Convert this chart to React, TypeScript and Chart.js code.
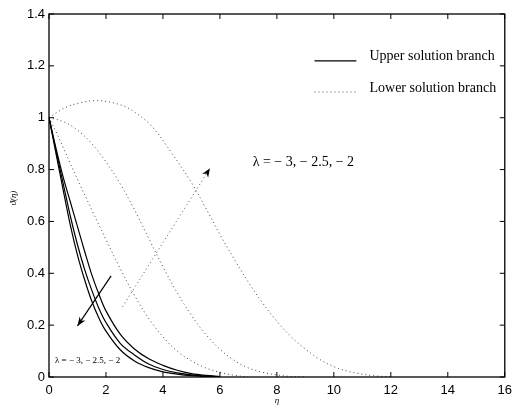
import React, { useEffect, useRef } from 'react';
import { Chart, registerables } from 'chart.js';
Chart.register(...registerables);

// Upper solution branch (solid), lambda = -3, -2.5, -2
const etaUpper = [0, 0.25, 0.5, 0.75, 1, 1.25, 1.5, 1.75, 2, 2.5, 3, 3.5, 4, 4.5, 5, 5.5, 6];
const upperL3 = [1, 0.86, 0.72, 0.585, 0.47, 0.375, 0.293, 0.228, 0.177, 0.105, 0.062, 0.036, 0.02, 0.011, 0.005, 0.002, 0];
const upperL25 = [1, 0.87, 0.745, 0.62, 0.51, 0.415, 0.335, 0.265, 0.21, 0.13, 0.085, 0.05, 0.029, 0.016, 0.008, 0.004, 0.001];
const upperL2 = [1, 0.88, 0.77, 0.675, 0.58, 0.485, 0.395, 0.32, 0.255, 0.165, 0.108, 0.07, 0.045, 0.026, 0.013, 0.006, 0.002];

// Lower solution branch (dotted)
const etaLowerA = [0, 0.5, 1, 1.7, 2.5, 3, 3.6, 4.3, 5, 5.5, 6, 6.5, 7, 7.5, 8, 8.5, 9, 9.5, 10, 10.5, 11, 11.5, 12];
const lowerA = [1, 1.035, 1.055, 1.066, 1.05, 1.022, 0.968, 0.865, 0.75, 0.652, 0.55, 0.455, 0.365, 0.285, 0.215, 0.155, 0.108, 0.068, 0.04, 0.022, 0.011, 0.004, 0];
const etaLowerB = [0, 0.5, 1, 1.5, 2, 2.5, 3, 3.5, 4, 4.5, 5, 5.5, 6, 6.5, 7, 7.5, 8, 8.5, 9];
const lowerB = [1, 0.985, 0.952, 0.9, 0.83, 0.745, 0.645, 0.535, 0.425, 0.325, 0.238, 0.165, 0.107, 0.064, 0.035, 0.018, 0.008, 0.002, 0];
const etaLowerC = [0, 0.25, 0.5, 0.75, 1, 1.5, 2, 2.5, 3, 3.5, 4, 4.5, 5, 5.5, 6, 6.5, 7];
const lowerC = [1, 0.945, 0.885, 0.823, 0.762, 0.645, 0.53, 0.418, 0.315, 0.226, 0.155, 0.1, 0.062, 0.035, 0.018, 0.007, 0];

const xTicks = [0, 2, 4, 6, 8, 10, 12, 14, 16];
const yTicks = [0, 0.2, 0.4, 0.6, 0.8, 1, 1.2, 1.4];

const legendLabels = ['Upper solution branch', 'Lower solution branch'];
const lambdaLabel = 'λ = − 3, − 2.5, − 2';
const xTitle = 'η';
const yTitle = 'ϑ(η)';

const pts = (xs: number[], ys: number[]) => xs.map((x, i) => ({ x, y: ys[i] }));

const annotPlugin = {
  id: 'annot',
  afterDraw(chart: any) {
    const { ctx, chartArea: ca, scales } = chart;
    const xs = scales.x, ys = scales.y;
    const px = (v: number) => xs.getPixelForValue(v);
    const py = (v: number) => ys.getPixelForValue(v);
    ctx.save();
    const line = (x1: number, y1: number, x2: number, y2: number) => {
      ctx.beginPath(); ctx.moveTo(x1, y1); ctx.lineTo(x2, y2); ctx.stroke();
    };
    // frame
    ctx.strokeStyle = '#000';
    ctx.lineWidth = 1.3;
    ctx.setLineDash([]);
    ctx.strokeRect(ca.left, ca.top, ca.right - ca.left, ca.bottom - ca.top);
    // inward ticks
    ctx.lineWidth = 1;
    const tl = 5;
    xTicks.forEach((v) => {
      const x = px(v);
      line(x, ca.bottom, x, ca.bottom - tl);
      line(x, ca.top, x, ca.top + tl);
    });
    yTicks.forEach((v) => {
      const y = py(v);
      line(ca.left, y, ca.left + tl, y);
      line(ca.right, y, ca.right - tl, y);
    });

    // legend
    ctx.lineWidth = 1.2;
    ctx.strokeStyle = '#000';
    line(px(9.32), py(1.219), px(10.79), py(1.219));
    ctx.strokeStyle = '#555';
    ctx.lineWidth = 1;
    ctx.setLineDash([1, 3]);
    line(px(9.32), py(1.099), px(10.79), py(1.099));
    ctx.setLineDash([]);
    ctx.fillStyle = '#000';
    ctx.font = '14px "Liberation Serif"';
    ctx.textBaseline = 'middle';
    ctx.textAlign = 'left';
    ctx.fillText(legendLabels[0], px(11.25), py(1.235));
    ctx.fillText(legendLabels[1], px(11.25), py(1.115));

    // lambda labels
    ctx.fillText(lambdaLabel, px(7.15), py(0.829));
    ctx.font = '9px "Liberation Serif"';
    ctx.fillText(lambdaLabel, px(0.21), py(0.063));

    // arrows
    const head = (x1: number, y1: number, x2: number, y2: number) => {
      const a = Math.atan2(y2 - y1, x2 - x1);
      const L = 9, W = 3.5;
      ctx.beginPath();
      ctx.moveTo(x2, y2);
      ctx.lineTo(x2 - L * Math.cos(a) + W * Math.sin(a), y2 - L * Math.sin(a) - W * Math.cos(a));
      ctx.lineTo(x2 - L * 0.7 * Math.cos(a), y2 - L * 0.7 * Math.sin(a));
      ctx.lineTo(x2 - L * Math.cos(a) - W * Math.sin(a), y2 - L * Math.sin(a) + W * Math.cos(a));
      ctx.closePath();
      ctx.fill();
    };
    ctx.strokeStyle = '#000';
    ctx.lineWidth = 1.2;
    const a1 = [px(2.18), py(0.39), px(1.0), py(0.197)];
    line(a1[0], a1[1], a1[2], a1[3]);
    head(a1[0], a1[1], a1[2], a1[3]);
    const a2 = [px(2.58), py(0.271), px(5.65), py(0.805)];
    ctx.strokeStyle = '#555';
    ctx.lineWidth = 1;
    ctx.setLineDash([1, 3]);
    line(a2[0], a2[1], a2[2], a2[3]);
    ctx.setLineDash([]);
    head(a2[0], a2[1], a2[2], a2[3]);

    // axis titles
    ctx.fillStyle = '#000';
    ctx.font = 'italic 9px "Liberation Serif"';
    ctx.textAlign = 'center';
    ctx.fillText(xTitle, px(8), ca.bottom + 24);
    ctx.save();
    ctx.translate(14, py(0.69));
    ctx.rotate(-Math.PI / 2);
    ctx.fillText(yTitle, 0, 0);
    ctx.restore();
    ctx.restore();
  },
};

export default function App() {
  const ref = useRef<HTMLCanvasElement | null>(null);
  useEffect(() => {
    if (!ref.current) return;
    const solid = (xs: number[], ys: number[]) => ({
      data: pts(xs, ys),
      borderColor: '#000',
      borderWidth: 1.2,
      pointRadius: 0,
      tension: 0.35,
      fill: false,
    });
    const dotted = (xs: number[], ys: number[]) => ({
      data: pts(xs, ys),
      borderColor: '#444',
      borderWidth: 1,
      borderDash: [1, 3],
      pointRadius: 0,
      tension: 0.35,
      fill: false,
    });
    const chart = new Chart(ref.current, {
      type: 'line',
      data: {
        datasets: [
          solid(etaUpper, upperL3),
          solid(etaUpper, upperL25),
          solid(etaUpper, upperL2),
          dotted(etaLowerA, lowerA),
          dotted(etaLowerB, lowerB),
          dotted(etaLowerC, lowerC),
        ],
      },
      options: {
        animation: false,
        responsive: false,
        devicePixelRatio: 1,
        layout: { padding: { top: 14, right: 8, left: 0, bottom: 0 } },
        plugins: { legend: { display: false }, tooltip: { enabled: false } },
        scales: {
          x: {
            type: 'linear',
            min: 0,
            max: 16,
            afterBuildTicks: (s: any) => { s.ticks = xTicks.map((v) => ({ value: v })); },
            afterFit: (s: any) => { s.height = 31; },
            grid: { display: false, drawTicks: false },
            border: { display: false },
            ticks: {
              padding: 6,
              color: '#000',
              font: { family: '"Liberation Sans"', size: 13 },
              maxRotation: 0,
              callback: (v: any) => String(v),
            },
          },
          y: {
            type: 'linear',
            min: 0,
            max: 1.4,
            afterBuildTicks: (s: any) => { s.ticks = yTicks.map((v) => ({ value: v })); },
            afterFit: (s: any) => { s.width = 49; },
            grid: { display: false, drawTicks: false },
            border: { display: false },
            ticks: {
              padding: 4,
              color: '#000',
              font: { family: '"Liberation Sans"', size: 13 },
              callback: (v: any) => String(Number(Number(v).toFixed(1))),
            },
          },
        },
      },
      plugins: [annotPlugin],
    });
    return () => chart.destroy();
  }, []);
  return (
    <div style={{ position: 'absolute', left: 0, top: 0, width: 518, height: 408, background: '#fff' }}>
      <canvas ref={ref} width={518} height={408} style={{ width: 518, height: 408 }} />
    </div>
  );
}
